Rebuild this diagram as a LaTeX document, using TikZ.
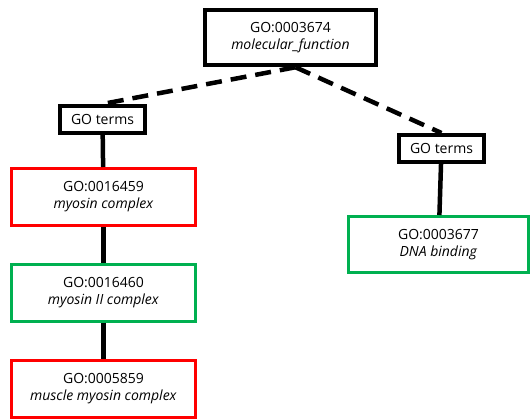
\documentclass[tikz,border=0pt]{standalone}
\usepackage{fontspec}
\setmainfont{Open Sans}
\usepackage{tikz}
\definecolor{termred}{RGB}{255,0,0}
\definecolor{termgreen}{RGB}{0,176,80}

\begin{document}
\begin{tikzpicture}[x=1pt,y=-1pt,
    term/.style={draw,line width=3pt,minimum width=184pt,minimum height=57pt,
      align=center,font=\fontsize{14}{17}\selectfont,fill=white},
    goterms/.style={draw,line width=4pt,minimum width=85pt,minimum height=27pt,
      font=\fontsize{14}{16}\selectfont,fill=white},
    link/.style={line width=4.5pt}]
        \useasboundingbox (0,0) rectangle (531,420);
        \node[term,line width=4.5pt,minimum width=171pt,minimum height=55pt] (N0) at (290.5,37.5) {GO:0003674\\\textit{molecular\_function}};
        \node[goterms] (N1) at (102.5,119.5) {GO terms};
        \node[goterms] (N2) at (441.5,148.5) {GO terms};
        \node[term,draw=termred] (N3) at (103.5,197) {GO:0016459\\\textit{myosin complex}};
        \node[term,draw=termgreen] (N4) at (103.5,292.5) {GO:0016460\\\textit{myosin II complex}};
        \node[term,draw=termred] (N5) at (103.5,389) {GO:0005859\\\textit{muscle myosin complex}};
        \node[term,draw=termgreen,minimum width=180pt,minimum height=56pt] (N6) at (438.5,244.5) {GO:0003677\\\textit{DNA binding}};
        \path[link,dash pattern=on 16pt off 9pt] ([xshift=5pt]N0.south) edge (N1.north)
        ([xshift=5pt]N0.south) edge (N2.north);
        \path[link] (N1) edge (N3)
        (N3) edge (N4)  (N4) edge (N5)
        (N2) edge (N6);
      \end{tikzpicture}
\end{document}
